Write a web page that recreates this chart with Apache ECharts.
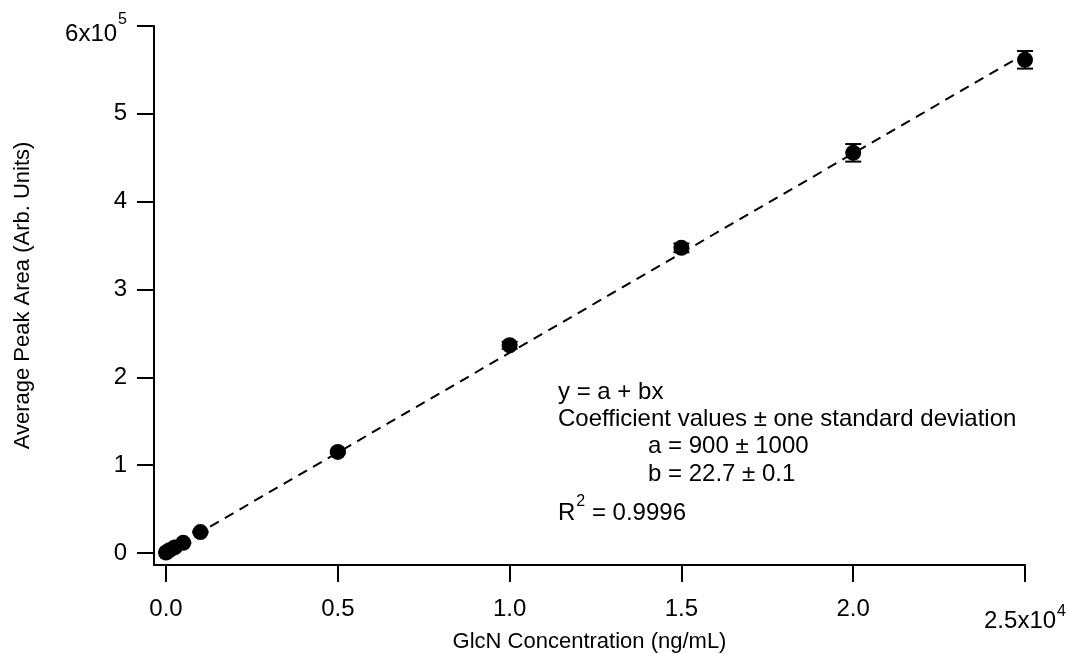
<!DOCTYPE html>
<html>
<head>
<meta charset="utf-8">
<script src="https://cdn.jsdelivr.net/npm/echarts@6/dist/echarts.min.js"></script>
<style>
  html, body { margin: 0; padding: 0; background: #fff; }
  #chart { width: 1067px; height: 654px; }
</style>
</head>
<body>
<div id="chart"></div>
<script>
var myChart = echarts.init(document.getElementById('chart'));

// calibration points (ng/mL vs peak area)
var concX    = [0, 100, 250, 500, 1000, 5000, 10000, 15000, 20000, 25000];
var peakArea = [500, 3200, 6300, 11500, 23800, 115000, 236500, 347400, 455600, 561500];
var peakErr  = [300, 300, 300, 500, 800, 1500, 4000, 5000, 10000, 10000];

// fit line y = a + bx
var fitLineX = [0, 25000];
var fitLineY = [900, 568400];

var xTickValues = [0, 5000, 10000, 15000, 20000, 25000];
var xTickLabels = ['0.0', '0.5', '1.0', '1.5', '2.0', '{m|2.5x10}{s|4}'];
var yTickValues = [0, 100000, 200000, 300000, 400000, 500000, 600000];
var yTickLabels = ['0', '1', '2', '3', '4', '5', '{m|6x10}{s|5}'];

var annoLines = [
    'y = a + bx',
    'Coefficient values \u00b1 one standard deviation',
    'a = 900 \u00b1 1000',
    'b = 22.7 \u00b1 0.1',
    '{m|R}{s|2}{m| = 0.9996}'
];

var FONT = 'Liberation Sans, Arial, sans-serif';

var pts = concX.map(function (x, i) { return [x, peakArea[i]]; });
var errData = concX.map(function (x, i) { return [x, peakArea[i] - peakErr[i], peakArea[i] + peakErr[i]]; });
var fitData = fitLineX.map(function (x, i) { return [x, fitLineY[i]]; });

function labelFrom(values, labels) {
    return function (v) {
        var i = values.indexOf(v);
        return i < 0 ? '' : labels[i];
    };
}

var option = {
    animation: false,
    backgroundColor: '#fff',
    grid: { left: 154, right: 42, top: 26, bottom: 89, containLabel: false, outerBoundsMode: 'none' },
    xAxis: {
        type: 'value',
        min: -350,
        max: 25000,
        name: 'GlcN Concentration (ng/mL)',
        nameLocation: 'middle',
        nameGap: 66,
        nameMoveOverlap: false,
        nameTextStyle: { fontFamily: FONT, fontSize: 22, color: '#000', verticalAlign: 'top' },
        axisLine: { show: true, onZero: false, lineStyle: { color: '#000', width: 2 } },
        axisTick: { show: true, length: 17, customValues: xTickValues, lineStyle: { color: '#000', width: 2 } },
        axisLabel: {
            customValues: xTickValues,
            formatter: labelFrom(xTickValues, xTickLabels),
            margin: 30,
            fontFamily: FONT, fontSize: 24, color: '#000', lineHeight: 28,
            verticalAlign: 'top',
            rich: {
                m: { fontFamily: FONT, fontSize: 24, color: '#000', lineHeight: 38, verticalAlign: 'bottom' },
                s: { fontFamily: FONT, fontSize: 16, color: '#000', lineHeight: 14, padding: [9, 0, 0, 1], verticalAlign: 'top' }
            }
        },
        splitLine: { show: false }
    },
    yAxis: {
        type: 'value',
        min: -13700,
        max: 600000,
        name: 'Average Peak Area (Arb. Units)',
        nameLocation: 'middle',
        nameGap: 120,
        nameRotate: 90,
        nameMoveOverlap: false,
        nameTextStyle: { fontFamily: FONT, fontSize: 22, color: '#000' },
        axisLine: { show: true, onZero: false, lineStyle: { color: '#000', width: 2 } },
        axisTick: { show: true, length: 17, customValues: yTickValues, lineStyle: { color: '#000', width: 2 } },
        axisLabel: {
            customValues: yTickValues,
            formatter: labelFrom(yTickValues, yTickLabels),
            margin: 27,
            fontFamily: FONT, fontSize: 24, color: '#000',
            rich: {
                m: { fontFamily: FONT, fontSize: 24, color: '#000', lineHeight: 40, verticalAlign: 'bottom' },
                s: { fontFamily: FONT, fontSize: 16, color: '#000', lineHeight: 14, padding: [6, 0, 0, 1], verticalAlign: 'top' }
            }
        },
        splitLine: { show: false }
    },
    graphic: annoLines.map(function (t, i) {
        var tops = [380, 407, 434, 462, 489];
        var lefts = [558, 558, 648, 648, 558];
        return {
            type: 'text',
            left: lefts[i],
            top: tops[i],
            style: {
                text: t,
                fontFamily: FONT,
                fontSize: 24,
                fill: '#000',
                rich: {
                    m: { fontFamily: FONT, fontSize: 24, fill: '#000', lineHeight: 36, verticalAlign: 'bottom' },
                    s: { fontFamily: FONT, fontSize: 16, fill: '#000', lineHeight: 14, padding: [5, 0, 0, 1], verticalAlign: 'top' }
                }
            }
        };
    }),
    series: [
        {
            type: 'line',
            data: fitData,
            symbol: 'none',
            lineStyle: { color: '#000', width: 2, type: [10, 7] },
            z: 1
        },
        {
            type: 'custom',
            data: errData,
            renderItem: function (params, api) {
                var x = api.value(0);
                var lo = api.coord([x, api.value(1)]);
                var hi = api.coord([x, api.value(2)]);
                var hw = 8;
                var st = { stroke: '#000', lineWidth: 2 };
                return {
                    type: 'group',
                    children: [
                        { type: 'line', shape: { x1: lo[0], y1: lo[1], x2: hi[0], y2: hi[1] }, style: st },
                        { type: 'line', shape: { x1: lo[0] - hw, y1: lo[1], x2: lo[0] + hw, y2: lo[1] }, style: st },
                        { type: 'line', shape: { x1: hi[0] - hw, y1: hi[1], x2: hi[0] + hw, y2: hi[1] }, style: st }
                    ]
                };
            },
            z: 2
        },
        {
            type: 'scatter',
            data: pts,
            symbol: 'circle',
            symbolSize: 16,
            itemStyle: { color: '#000', opacity: 1 },
            z: 3
        }
    ]
};

myChart.setOption(option);
</script>
</body>
</html>
